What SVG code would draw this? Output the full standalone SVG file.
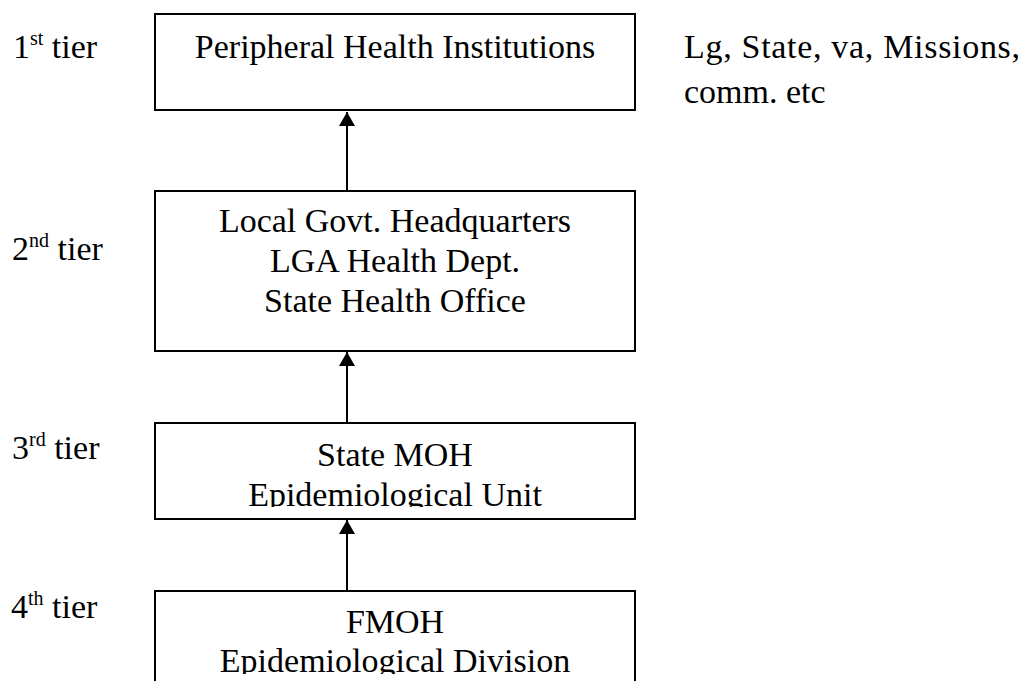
<svg xmlns="http://www.w3.org/2000/svg" width="1025" height="681" viewBox="0 0 1025 681">
<style>
text { font-family: "Liberation Serif", "Times New Roman", serif; font-size: 34px; fill: #000; }
.c { text-anchor: middle; }
.box { fill: #fff; stroke: #000; stroke-width: 2; }
.conn { stroke: #000; stroke-width: 2; fill: none; }
.sup { font-size: 20px; }
</style>
<defs>
<marker id="ah" markerWidth="16" markerHeight="14" refX="8" refY="0" orient="0" markerUnits="userSpaceOnUse" viewBox="0 0 16 14">
<path d="M0,14 L8,0 L16,14 Z" fill="#000"/>
</marker>
<clipPath id="clip3"><rect x="156" y="424" width="478" height="83"/></clipPath>
<clipPath id="clip4"><rect x="156" y="592" width="478" height="82"/></clipPath>
</defs>
<rect width="1025" height="681" fill="#fff"/>

<g id="tier-labels">
<text x="13" y="58">1<tspan class="sup" dy="-13">st</tspan><tspan dy="13"> tier</tspan></text>
<text x="12" y="260">2<tspan class="sup" dy="-13">nd</tspan><tspan dy="13"> tier</tspan></text>
<text x="12" y="459">3<tspan class="sup" dy="-13">rd</tspan><tspan dy="13"> tier</tspan></text>
<text x="11" y="618">4<tspan class="sup" dy="-13">th</tspan><tspan dy="13"> tier</tspan></text>
</g>

<g id="node-peripheral">
<rect class="box" x="155" y="14" width="480" height="96"/>
<text class="c" x="395" y="58">Peripheral Health Institutions</text>
</g>

<g id="note-peripheral">
<text x="684" y="58" textLength="336" lengthAdjust="spacing">Lg, State, va, Missions,</text>
<text x="684" y="103">comm. etc</text>
</g>

<g id="node-lga">
<rect class="box" x="155" y="191" width="480" height="160"/>
<text class="c" x="395" y="232">Local Govt. Headquarters</text>
<text class="c" x="395" y="272">LGA Health Dept.</text>
<text class="c" x="395" y="312">State Health Office</text>
</g>

<g id="node-state">
<rect class="box" x="155" y="423" width="480" height="96"/>
<g clip-path="url(#clip3)">
<text class="c" x="395" y="466">State MOH</text>
<text class="c" x="395" y="506">Epidemiological Unit</text>
</g>
</g>

<g id="node-fmoh">
<rect class="box" x="155" y="591" width="480" height="100"/>
<g clip-path="url(#clip4)">
<text class="c" x="395" y="633">FMOH</text>
<text class="c" x="395" y="672">Epidemiological Division</text>
</g>
</g>

<g id="connectors">
<line class="conn" x1="347" y1="191" x2="347" y2="112" marker-end="url(#ah)"/>
<line class="conn" x1="347" y1="423" x2="347" y2="352" marker-end="url(#ah)"/>
<line class="conn" x1="347" y1="591" x2="347" y2="520" marker-end="url(#ah)"/>
</g>
</svg>
